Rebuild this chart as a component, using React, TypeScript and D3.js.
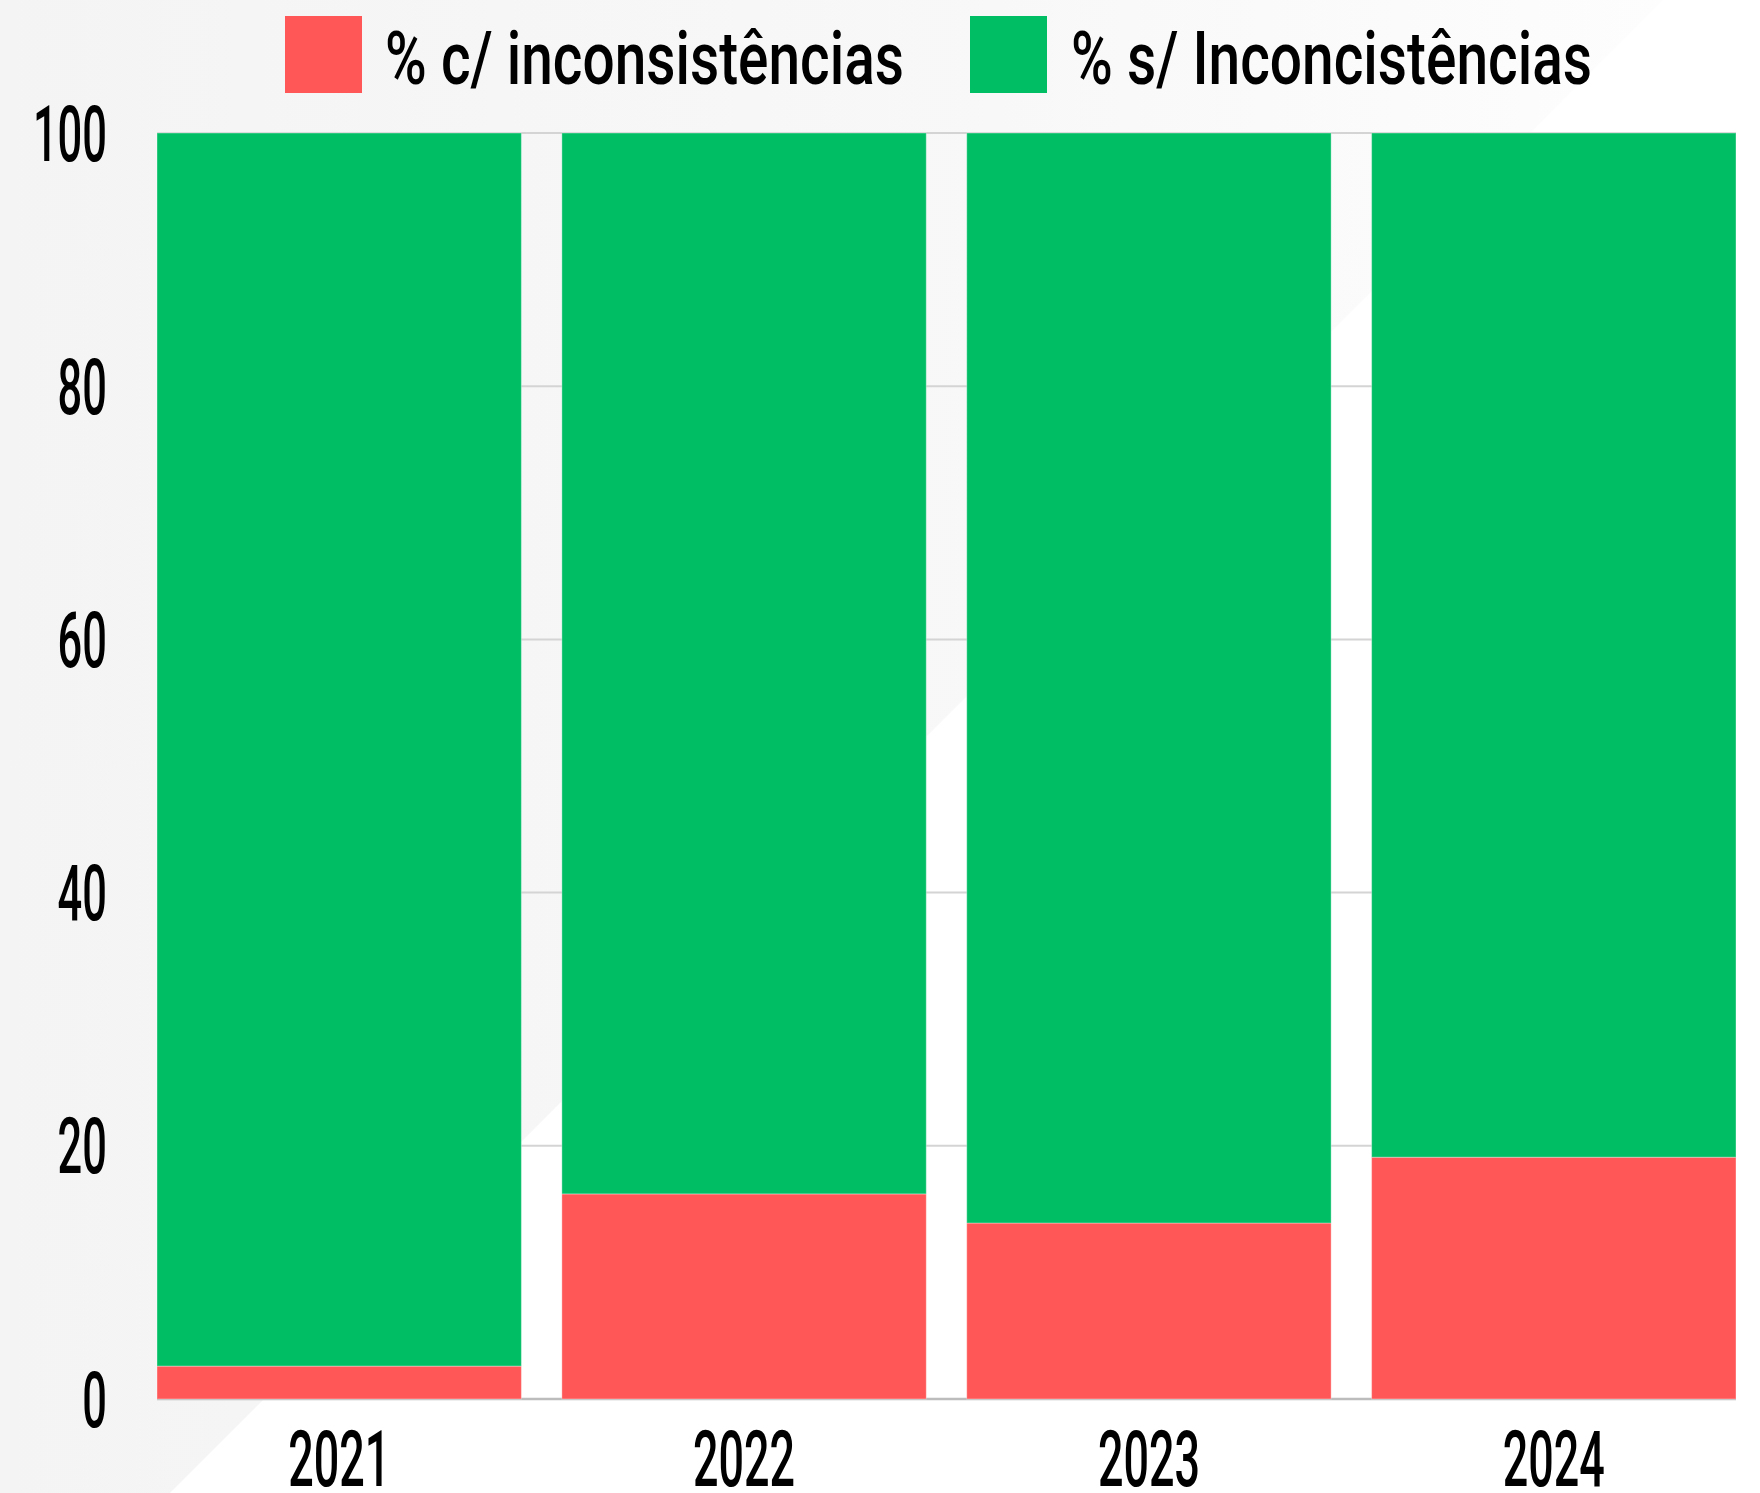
import * as d3 from "d3";

const years = ["2021", "2022", "2023", "2024"];
const comInconsistencias = [2.6, 16.2, 13.9, 19.1];
const semInconsistencias = [97.4, 83.8, 86.1, 80.9];
const seriesNames = ["% c/ inconsistências", "% s/ Inconcistências"];
const seriesColors = ["#FF5757", "#00BE64"];
const yTicks = [0, 20, 40, 60, 80, 100];

const W = 1760;
const H = 1493;
const margin = { top: 133, right: 24, bottom: 94, left: 157 };
const FONT = "Roboto, 'Liberation Sans Narrow', sans-serif";

export default function App() {
  const rows = years.map((year, i) => ({
    year,
    com: comInconsistencias[i],
    sem: semInconsistencias[i],
  }));

  const stack = d3.stack<any>().keys(["com", "sem"]);
  const series = stack(rows);

  const x = d3
    .scaleBand()
    .domain(years)
    .range([margin.left, W - margin.right])
    .paddingInner(0.1)
    .paddingOuter(0);

  const y = d3
    .scaleLinear()
    .domain([0, 100])
    .range([H - margin.bottom, margin.top]);

  const digitW = 24.7;

  return (
    <svg
      width={W}
      height={H}
      style={{ position: "absolute", left: 0, top: 0, background: "#fff" }}
    >
      <defs>
        <linearGradient id="bgFade" x1="0" y1="0" x2="1" y2="0">
          <stop offset="0%" stopColor="#f4f4f4" />
          <stop offset="60%" stopColor="#f8f8f8" />
          <stop offset="100%" stopColor="#fdfdfd" />
        </linearGradient>
      </defs>

      {/* faint background shape */}
      <polygon points={`0,0 1663,0 170,${H} 0,${H}`} fill="url(#bgFade)" />

      {/* gridlines */}
      {yTicks.map((t) => (
        <line
          key={t}
          x1={margin.left}
          x2={W - margin.right}
          y1={y(t)}
          y2={y(t)}
          stroke={t === 0 ? "#bcbcbc" : "#d4d4d4"}
          strokeWidth={t === 0 ? 2.5 : 2}
        />
      ))}

      {/* stacked bars */}
      {series.map((s, si) => (
        <g key={si} fill={seriesColors[si]}>
          {s.map((d: any, i: number) => (
            <rect
              key={i}
              x={x(years[i])}
              width={x.bandwidth()}
              y={y(d[1])}
              height={y(d[0]) - y(d[1])}
              stroke="rgba(255,255,255,0.35)"
              strokeWidth={1}
            />
          ))}
        </g>
      ))}

      {/* y axis labels */}
      {yTicks.map((t) => (
        <text
          key={t}
          x={107}
          y={y(t) + 27.5}
          textAnchor="end"
          fontFamily={FONT}
          fontWeight={500}
          fontSize={78}
          fill="#000"
          textLength={String(t).length * digitW}
          lengthAdjust="spacingAndGlyphs"
        >
          {t}
        </text>
      ))}

      {/* x axis labels */}
      {years.map((yr) => (
        <text
          key={yr}
          x={(x(yr) as number) + x.bandwidth() / 2}
          y={1486}
          textAnchor="middle"
          fontFamily={FONT}
          fontWeight={500}
          fontSize={77}
          fill="#000"
          textLength={yr.length * 25.5}
          lengthAdjust="spacingAndGlyphs"
        >
          {yr}
        </text>
      ))}

      {/* legend */}
      {seriesNames.map((name, i) => {
        const bx = i === 0 ? 285 : 970;
        const tx = i === 0 ? 385 : 1071;
        const tw = i === 0 ? 519 : 521;
        return (
          <g key={name}>
            <rect x={bx} y={16} width={77} height={77} fill={seriesColors[i]} />
            <text
              x={tx}
              y={84}
              fontFamily={FONT}
              fontWeight={500}
              fontSize={74}
              fill="#000"
              textLength={tw}
              lengthAdjust="spacingAndGlyphs"
            >
              {name}
            </text>
          </g>
        );
      })}
    </svg>
  );
}
